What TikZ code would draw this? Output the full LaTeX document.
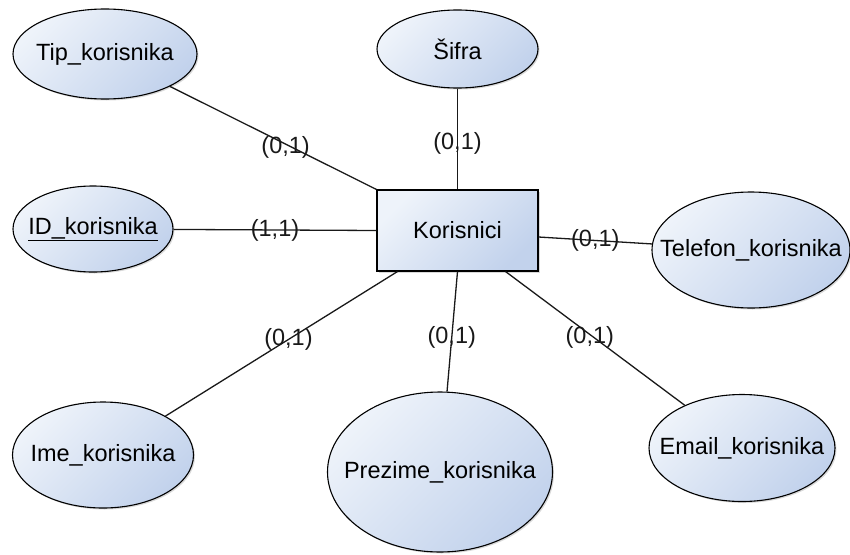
\documentclass[tikz,border=0pt]{standalone}
\usepackage{fontspec}
\setmainfont{Liberation Sans}
\usetikzlibrary{shapes.geometric,shadows}
\definecolor{fillA}{RGB}{238,243,250}
\definecolor{fillB}{RGB}{194,210,236}
\newcommand{\attr}[1]{\makebox[0pt]{#1}}
\tikzstyle{entity} = [draw, rectangle, line width=1.1pt, top color=fillA, bottom color=fillB, shading angle=45,
    minimum width=161pt, minimum height=81pt,
    drop shadow={shadow xshift=1.5pt, shadow yshift=-1.5pt, opacity=0.3}]
\tikzstyle{attrib} = [draw, ellipse, inner sep=0pt, line width=1.1pt, top color=fillA, bottom color=fillB, shading angle=45,
    drop shadow={shadow xshift=1.5pt, shadow yshift=-1.5pt, opacity=0.3}]
\tikzset{card/.style={inner sep=0pt, text=black!90},
    edge/.style={line width=1.3pt, black!90}}

\begin{document}
\begin{tikzpicture}[x=1pt, y=-1pt, font=\fontsize{23.5}{28}\selectfont]
        \useasboundingbox (0,0) rectangle (850,554);

        \node [entity] (kor) at (457.5,230.5) {Korisnici};

        \node [attrib, minimum width=184pt, minimum height=90pt] (tip) at (105,54) {\attr{Tip\_korisnika}};
        \node [attrib, minimum width=161pt, minimum height=78pt] (sifra) at (457.5,49) {\attr{Šifra}};
        \node [attrib, minimum width=160pt, minimum height=86pt] (id) at (93,229) {\attr{\underline{ID\_korisnika}}};
        \node [attrib, minimum width=198pt, minimum height=116pt] (tel) at (751,250) {\attr{Telefon\_korisnika}};
        \node [attrib, minimum width=181pt, minimum height=106pt] (ime) at (103,455) {\attr{Ime\_korisnika}};
        \node [attrib, minimum width=225pt, minimum height=160pt] (prez) at (440,472) {\attr{Prezime\_korisnika}};
        \node [attrib, minimum width=186pt, minimum height=107pt] (email) at (742,448) {\attr{Email\_korisnika}};

        \draw [edge] (tip) -- node [card, pos=0.56, yshift=-3pt] {(0,1)} (kor.north west);
        \draw [edge] (sifra) -- node [card, pos=0.54] {(0,1)} (kor.north);
        \draw [edge] (id) -- node [card] {(1,1)} (kor.west);
        \draw [edge] ([yshift=-6.5pt]kor.east) -- node [card] {(0,1)} (tel);
        \draw [edge] (ime) -- node [card, pos=0.53] {(0,1)} ([xshift=21pt]kor.south west);
        \draw [edge] (kor.south) -- node [card, pos=0.55] {(0,1)} (prez);
        \draw [edge] ([xshift=-33pt]kor.south east) -- node [card, pos=0.47, yshift=-3pt] {(0,1)} (email);
    \end{tikzpicture}
\end{document}
